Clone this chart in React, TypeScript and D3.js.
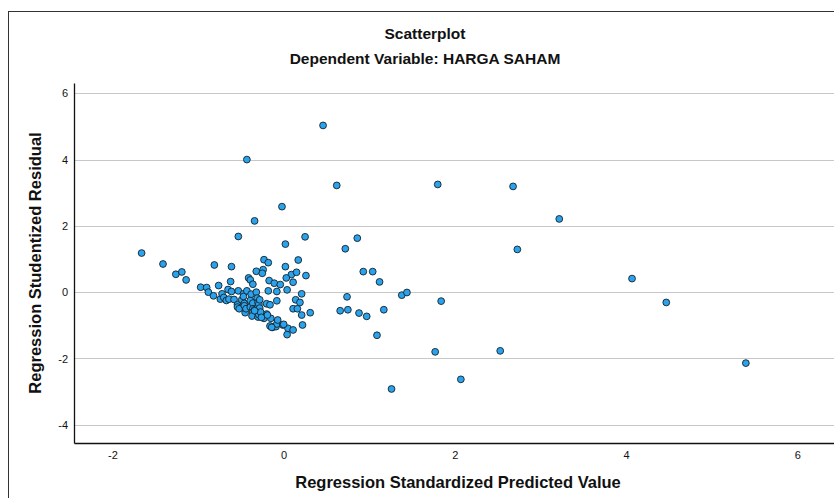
import { useEffect, useRef } from "react";
import * as d3 from "d3";

// Regression Standardized Predicted Value (x) / Regression Studentized Residual (y)
const predicted = [
  -1.66, -1.41, -1.26, -1.19, -1.14, -0.81, -0.61, -0.53, -0.43, -0.34,
  -0.02, 0.46, 0.02, 0.25, -0.23, -0.18, 0.17, -0.32, -0.24, -0.25,
  0.02, 0.09, 0.15, 0.26, 0.03, 0.11, -0.41, -0.39, -0.36, -0.62,
  -0.76, -0.97, -0.9, -0.17, -0.11, -0.04, -0.18, -0.08, 0.04, 0.21,
  -0.88, -0.82, -0.74, -0.72, -0.7, -0.67, -0.65, -0.64, -0.61, -0.58,
  -0.54, -0.54, -0.53, -0.52, -0.49, -0.47, -0.47, -0.46, -0.46, -0.45,
  -0.44, -0.43, -0.39, -0.39, -0.38, -0.36, -0.36, -0.36, -0.37, -0.34,
  -0.32, -0.31, -0.3, -0.3, -0.3, -0.29, -0.29, -0.29, -0.28, -0.28,
  -0.23, -0.2, -0.2, -0.16, -0.16, -0.15, -0.13, -0.09, -0.08, -0.08,
  -0.07, -0.01, 0.04, 0.05, 0.11, 0.11, 0.14, 0.16, 0.19, 0.21,
  0.22, 0.31, -0.27, -0.26, -0.19, -0.14, 0.0, -0.34,
  0.62, 1.8, 2.68, 3.22, 0.86, 0.72, 2.73, 0.93, 1.04, 1.12,
  4.07, 0.74, 1.38, 1.44, 1.84, 4.47, 0.66, 0.75, 0.88, 0.97,
  1.17, 1.09, 1.77, 2.53, 5.4, 2.07, 1.26,
];

const residual = [
  1.18, 0.85, 0.54, 0.61, 0.37, 0.82, 0.77, 1.68, 4.0, 2.15,
  2.58, 5.03, 1.45, 1.67, 0.98, 0.89, 0.97, 0.63, 0.68, 0.57,
  0.77, 0.53, 0.6, 0.5, 0.43, 0.3, 0.43, 0.37, 0.24, 0.32,
  0.2, 0.15, 0.14, 0.35, 0.27, 0.23, 0.04, 0.02, 0.07, -0.05,
  0.0, -0.11, -0.21, -0.05, -0.16, -0.25, 0.08, -0.21, 0.02, -0.22,
  -0.38, -0.45, 0.04, -0.5, -0.23, -0.05, -0.13, -0.34, -0.41, -0.62,
  -0.5, 0.04, -0.25, -0.45, -0.06, -0.33, -0.5, -0.6, -0.72, -0.53,
  0.0, -0.18, -0.31, -0.45, -0.75, -0.36, -0.59, -0.68, -0.23, -0.48,
  -0.79, -0.35, -0.66, -0.38, -1.02, -0.79, -1.06, -1.04, -0.26, -0.96,
  -0.84, -0.99, -1.28, -1.09, -1.14, -0.5, -0.23, -0.5, -0.31, -0.69,
  -0.99, -0.62, -0.6, -0.76, -0.69, -1.06, -0.97, -0.56,
  3.22, 3.25, 3.19, 2.21, 1.63, 1.31, 1.29, 0.62, 0.62, 0.31,
  0.41, -0.14, -0.09, -0.01, -0.27, -0.31, -0.56, -0.53, -0.63, -0.73,
  -0.53, -1.3, -1.8, -1.77, -2.14, -2.63, -2.92,
];

const xTicks = [-2, 0, 2, 4, 6];
const yTicks = [-4, -2, 0, 2, 4, 6];

const W = 834;
const H = 498;
const FONT = "'Liberation Sans', Arial, sans-serif";

export default function App() {
  const ref = useRef<SVGSVGElement>(null);

  useEffect(() => {
    const svg = d3.select(ref.current);
    svg.selectAll("*").remove();

    const left = 74;
    const right = 840;
    const top = 83;
    const bottom = 443;

    const x = d3.scaleLinear().domain([-2.45, 6.5]).range([left, right]);
    const y = d3.scaleLinear().domain([-4.55, 6.31]).range([bottom, top]);

    svg.append("rect").attr("width", W).attr("height", H).attr("fill", "#fff");

    // outer frame
    svg
      .append("rect")
      .attr("x", 8.5)
      .attr("y", 11.5)
      .attr("width", W + 20)
      .attr("height", H + 20)
      .attr("fill", "none")
      .attr("stroke", "#333")
      .attr("stroke-width", 1);

    svg
      .append("text")
      .attr("x", 425)
      .attr("y", 39)
      .attr("text-anchor", "middle")
      .attr("font-family", FONT)
      .attr("font-weight", "bold")
      .attr("font-size", 15.5)
      .attr("fill", "#111")
      .text("Scatterplot");

    svg
      .append("text")
      .attr("x", 425)
      .attr("y", 64)
      .attr("text-anchor", "middle")
      .attr("font-family", FONT)
      .attr("font-weight", "bold")
      .attr("font-size", 15.5)
      .attr("fill", "#111")
      .text("Dependent Variable: HARGA SAHAM");

    // gridlines
    svg
      .append("g")
      .selectAll("line")
      .data(yTicks)
      .join("line")
      .attr("x1", left)
      .attr("x2", right)
      .attr("y1", (d) => Math.round(y(d)) + 0.5)
      .attr("y2", (d) => Math.round(y(d)) + 0.5)
      .attr("stroke", "#c8c8c8")
      .attr("stroke-width", 1.2);

    // y axis
    const yAxis = svg
      .append("g")
      .attr("transform", `translate(${left},0)`)
      .call(
        d3
          .axisLeft(y)
          .tickValues(yTicks)
          .tickSize(0)
          .tickPadding(6)
          .tickFormat((d) => String(d))
      );
    yAxis.select(".domain").attr("stroke", "#111").attr("stroke-width", 1.3);
    yAxis.selectAll("text").attr("font-family", FONT).attr("font-size", 11).attr("fill", "#111");

    // x axis
    const xAxis = svg
      .append("g")
      .attr("transform", `translate(0,${bottom})`)
      .call(
        d3
          .axisBottom(x)
          .tickValues(xTicks)
          .tickSize(0)
          .tickPadding(8)
          .tickFormat((d) => String(d))
      );
    xAxis.select(".domain").attr("stroke", "#111").attr("stroke-width", 1.3);
    xAxis.selectAll("text").attr("font-family", FONT).attr("font-size", 11).attr("fill", "#111");

    svg
      .append("text")
      .attr("x", 458)
      .attr("y", 488)
      .attr("text-anchor", "middle")
      .attr("font-family", FONT)
      .attr("font-weight", "bold")
      .attr("font-size", 16.5)
      .attr("fill", "#111")
      .text("Regression Standardized Predicted Value");

    svg
      .append("text")
      .attr("transform", `translate(41,263) rotate(-90)`)
      .attr("text-anchor", "middle")
      .attr("font-family", FONT)
      .attr("font-weight", "bold")
      .attr("font-size", 16.5)
      .attr("fill", "#111")
      .text("Regression Studentized Residual");

    const points = predicted.map((p, i) => ({ p, r: residual[i] }));

    svg
      .append("g")
      .selectAll("circle")
      .data(points)
      .join("circle")
      .attr("cx", (d) => x(d.p))
      .attr("cy", (d) => y(d.r))
      .attr("r", 3.4)
      .attr("fill", "#2aa3ec")
      .attr("stroke", "#15212a")
      .attr("stroke-width", 0.9);
  }, []);

  return (
    <svg
      ref={ref}
      width={W}
      height={H}
      style={{ position: "fixed", left: 0, top: 0, display: "block" }}
    />
  );
}
